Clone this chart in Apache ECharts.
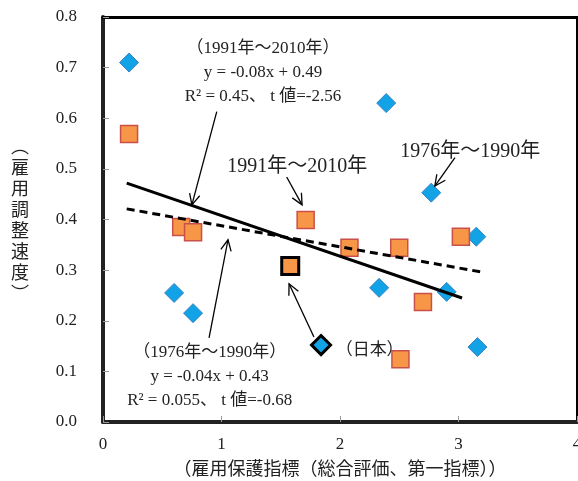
<!DOCTYPE html>
<html>
<head>
<meta charset="utf-8">
<script src="https://cdn.jsdelivr.net/npm/echarts@6/dist/echarts.min.js"></script>
<style>
html, body { margin: 0; padding: 0; background: #fff; }
#main { width: 578px; height: 481px; }
</style>
</head>
<body>
<div id="main"></div>
<script>
// 雇用保護指標 vs 雇用調整速度
var xTicks = [0, 1, 2, 3, 4];
var yTicks = [0.0, 0.1, 0.2, 0.3, 0.4, 0.5, 0.6, 0.7, 0.8];

// 1976年～1990年 (diamonds)
var pts1976 = [[0.22, 0.71], [2.39, 0.63], [2.77, 0.453], [3.15, 0.366], [0.60, 0.255],
               [0.76, 0.215], [2.33, 0.265], [2.90, 0.257], [3.16, 0.148]];
var japan1976 = [[1.84, 0.152]];
// 1991年～2010年 (squares)
var pts1991 = [[0.22, 0.569], [0.66, 0.385], [0.76, 0.375], [1.71, 0.399], [2.08, 0.344],
               [2.50, 0.344], [3.02, 0.366], [2.70, 0.237], [2.51, 0.124]];
var japan1991 = [[1.58, 0.308]];
// trend lines (end points)
var trend1991 = [[0.20, 0.472], [3.03, 0.245]];
var trend1976 = [[0.20, 0.421], [3.20, 0.296]];

var xName = '（雇用保護指標（総合評価、第一指標））';
var yName = '（雇用調整速度）';

var serifFont = "'Liberation Serif', 'Noto Sans CJK JP', serif";
var cjkFont = "'Noto Sans CJK JP', 'Liberation Serif', sans-serif";

var myChart = echarts.init(document.getElementById('main'));

var option = {
  animation: false,
  backgroundColor: '#fff',
  grid: { left: 103, right: 1, top: 17, bottom: 59, containLabel: false, outerBoundsMode: 'none' },
  xAxis: [{
    type: 'value', min: xTicks[0], max: xTicks[xTicks.length - 1], interval: 1,
    position: 'bottom',
    axisLine: { show: true, onZero: false, lineStyle: { color: '#222', width: 4 } },
    axisTick: { show: true, inside: true, length: 6, lineStyle: { color: '#999' } },
    splitLine: { show: false },
    axisLabel: { margin: 14, fontSize: 17, color: '#222', fontFamily: serifFont },
    name: xName, nameLocation: 'middle', nameGap: 37,
    nameTextStyle: { fontSize: 18, color: '#222', fontFamily: cjkFont }
  }, {
    type: 'value', min: 0, max: 4, position: 'top',
    axisLine: { show: true, onZero: false, lineStyle: { color: '#000', width: 3 } },
    axisTick: { show: false }, axisLabel: { show: false }, splitLine: { show: false }
  }],
  yAxis: [{
    type: 'value', min: yTicks[0], max: yTicks[yTicks.length - 1], interval: 0.1,
    position: 'left',
    axisLine: { show: true, onZero: false, lineStyle: { color: '#222', width: 4 } },
    axisTick: { show: true, inside: true, length: 6, lineStyle: { color: '#999' } },
    splitLine: { show: false },
    axisLabel: { margin: 26, fontSize: 17, color: '#222', fontFamily: serifFont,
      formatter: function (v) { return v.toFixed(1); } },
    name: yName.split('').join('\n').replace('（', '︵').replace('）', '︶'),
    nameLocation: 'middle', nameRotate: 0, nameGap: 74,
    nameTextStyle: { fontSize: 18, lineHeight: 21, color: '#222', fontFamily: cjkFont, padding: [36, 0, 0, 0] }
  }, {
    type: 'value', min: 0, max: 0.8, position: 'right',
    axisLine: { show: true, onZero: false, lineStyle: { color: '#000', width: 2 } },
    axisTick: { show: false }, axisLabel: { show: false }, splitLine: { show: false }
  }],
  series: [
    { type: 'scatter', data: pts1976, symbol: 'diamond', symbolSize: 19, z: 2,
      itemStyle: { color: '#12A3E6', borderColor: '#3B82C4', borderWidth: 1, opacity: 1 } },
    { type: 'scatter', data: pts1991, symbol: 'rect', symbolSize: 17, z: 2,
      itemStyle: { color: '#F79646', borderColor: '#C9504A', borderWidth: 1.5, opacity: 1 } },
    { type: 'scatter', data: japan1976, symbol: 'diamond', symbolSize: 19, z: 2,
      itemStyle: { color: '#12A3E6', borderColor: '#000', borderWidth: 3, opacity: 1 } },
    { type: 'scatter', data: japan1991, symbol: 'rect', symbolSize: 17, z: 2,
      itemStyle: { color: '#F79646', borderColor: '#000', borderWidth: 3, opacity: 1 } },
    { type: 'line', data: trend1991, symbol: 'none', z: 3,
      lineStyle: { color: '#000', width: 3 } },
    { type: 'line', data: trend1976, symbol: 'none', z: 3,
      lineStyle: { color: '#000', width: 3, type: [8, 5] } }
  ]
};
myChart.setOption(option);

// annotations, placed in data coordinates
function px(p) { return myChart.convertToPixel({ gridIndex: 0 }, p); }

function arrow(from, to) {
  var a = px(from), b = px(to);
  var ang = Math.atan2(b[1] - a[1], b[0] - a[0]);
  var len = 12, spread = 0.45;
  var h1 = [b[0] - len * Math.cos(ang - spread), b[1] - len * Math.sin(ang - spread)];
  var h2 = [b[0] - len * Math.cos(ang + spread), b[1] - len * Math.sin(ang + spread)];
  return [
    { type: 'line', shape: { x1: a[0], y1: a[1], x2: b[0], y2: b[1] }, style: { stroke: '#000', lineWidth: 1.3 }, z: 10 },
    { type: 'polyline', shape: { points: [h1, b, h2] }, style: { stroke: '#000', lineWidth: 1.3, fill: null }, z: 10 }
  ];
}

function label(p, text, size, lh) {
  var c = px(p);
  return { type: 'text', x: c[0], y: c[1], z: 10,
    style: { text: text, align: 'center', verticalAlign: 'middle', fill: '#222',
      fontSize: size, lineHeight: lh || size, fontFamily: serifFont } };
}

var graphics = [];
graphics.push(label([1.35, 0.69], '（1991年～2010年）\ny = -0.08x + 0.49\nR² = 0.45、 t 値=-2.56', 17, 24));
graphics.push(label([0.90, 0.089], '（1976年～1990年）\ny = -0.04x + 0.43\nR² = 0.055、 t 値=-0.68', 17, 24));
graphics.push(label([1.64, 0.504], '1991年～2010年', 20));
graphics.push(label([3.10, 0.534], '1976年～1990年', 20));
graphics.push(label([2.25, 0.142], '（日本）', 17));
graphics = graphics
  .concat(arrow([0.96, 0.613], [0.75, 0.429]))
  .concat(arrow([1.55, 0.484], [1.68, 0.429]))
  .concat(arrow([2.97, 0.522], [2.80, 0.466]))
  .concat(arrow([0.895, 0.166], [1.055, 0.36]))
  .concat(arrow([1.78, 0.168], [1.57, 0.273]));

myChart.setOption({ graphic: graphics });
</script>
</body>
</html>
